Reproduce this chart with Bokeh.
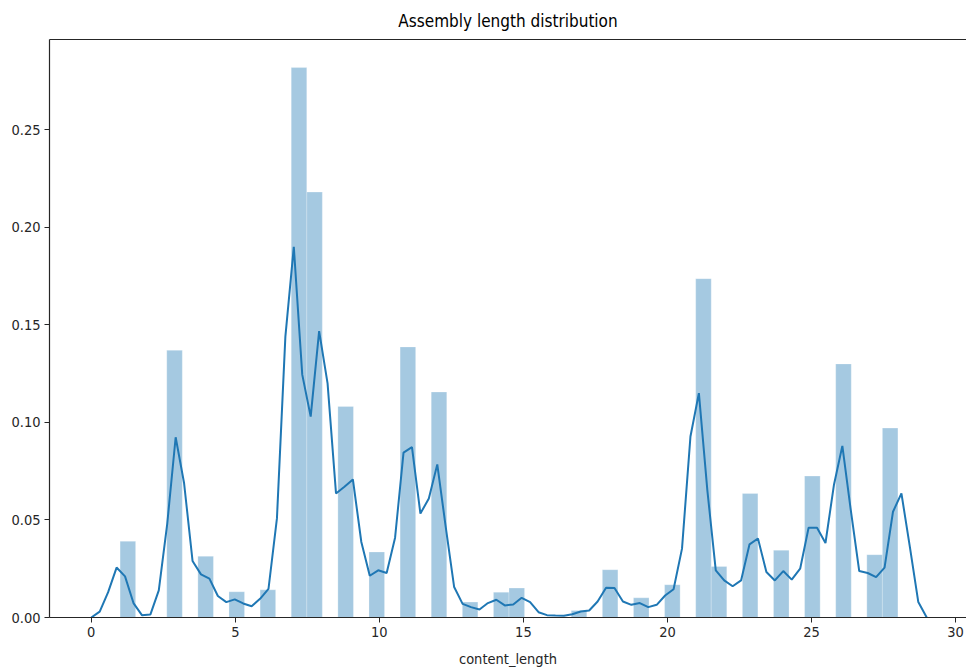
import numpy as np
from bokeh.plotting import figure
from bokeh.models import FixedTicker, PrintfTickFormatter, LinearAxis, ColumnDataSource
from bokeh.embed import file_html
from bokeh.resources import INLINE

# ---- data ----
lengths = [1, 3, 4, 5, 6, 7, 8, 9, 10, 11, 12, 13, 14, 15, 17, 18, 19, 20,
           21, 22, 23, 24, 25, 26, 27, 28]
densities = [0.0391, 0.137, 0.0314, 0.0132, 0.0142, 0.2819, 0.2181, 0.1082,
             0.0336, 0.1387, 0.1156, 0.0079, 0.013, 0.0151, 0.0036, 0.0245,
             0.0101, 0.0168, 0.1737, 0.0262, 0.0636, 0.0345, 0.0725, 0.130,
             0.0322, 0.0971]
n_bins = 50
data_min, data_max = 1, 28

kde_lo, kde_hi, kde_n = 0, 29, 100
kde_y = [0.000, 0.003, 0.013, 0.0256, 0.0211, 0.0074, 0.0012, 0.0015, 0.0139, 0.048,
         0.0924, 0.0688, 0.029, 0.0221, 0.0199, 0.011, 0.0079, 0.0093, 0.0072, 0.0058,
         0.0096, 0.0147, 0.0508, 0.144, 0.190, 0.1245, 0.103, 0.1468, 0.120, 0.0636,
         0.067, 0.0708, 0.0387, 0.0214, 0.0242, 0.0228, 0.0409, 0.0845, 0.0873, 0.0533,
         0.061, 0.0785, 0.0465, 0.0156, 0.007, 0.0053, 0.0041, 0.0074, 0.0091, 0.0062,
         0.0067, 0.0101, 0.0079, 0.0027, 0.0012, 0.001, 0.0009, 0.0017, 0.0031, 0.0036,
         0.0082, 0.0153, 0.0151, 0.0082, 0.0065, 0.0074, 0.0053, 0.0065, 0.0113, 0.0145,
         0.0353, 0.0928, 0.115, 0.0653, 0.0242, 0.019, 0.016, 0.019, 0.0375, 0.0405,
         0.0233, 0.019, 0.0238, 0.0194, 0.025, 0.046, 0.046, 0.0382, 0.0679, 0.088,
         0.055, 0.0238, 0.0228, 0.0207, 0.0256, 0.0542, 0.0636, 0.0362, 0.0079, 0.000]

x_ticks = [0, 5, 10, 15, 20, 25, 30]
y_ticks = [0.00, 0.05, 0.10, 0.15, 0.20, 0.25]
title_text = "Assembly length distribution"
x_label = "content_length"

# ---- derived histogram geometry ----
edges = np.linspace(data_min, data_max, n_bins + 1)
bw = edges[1] - edges[0]
idx = [min(int((v - data_min) / bw), n_bins - 1) for v in lengths]
bars = ColumnDataSource(dict(left=[edges[i] for i in idx],
                             right=[edges[i + 1] for i in idx],
                             top=densities))
kde_x = np.linspace(kde_lo, kde_hi, kde_n)

FONT = "DejaVu Sans Condensed"
AX = "#262626"

p = figure(width=966, height=669, x_range=(-1.45, 30.38), y_range=(0, 0.2963),
           output_backend="svg", toolbar_location=None,
           min_border_left=49, min_border_right=0, min_border_bottom=47,
           min_border_top=22)
p.title.text = title_text
p.title.align = "center"
p.title.text_font = FONT
p.title.text_font_size = "17px"
p.title.text_font_style = "normal"
p.title.text_color = "#000000"
p.title.standoff = 17
p.outline_line_color = None
p.xgrid.grid_line_color = None
p.ygrid.grid_line_color = None

p.quad(left="left", right="right", bottom=0, top="top", source=bars,
       fill_color="#1f77b4", fill_alpha=0.4, line_color="white", line_alpha=0.25,
       line_width=1)
p.line(kde_x, kde_y, line_color="#1f77b4", line_width=2)

for ax in (p.xaxis[0], p.yaxis[0]):
    ax.axis_line_color = AX
    ax.axis_line_width = 1.2
    ax.major_tick_line_color = AX
    ax.major_tick_out = 5
    ax.major_tick_in = 0
    ax.minor_tick_line_color = None
    ax.major_label_text_font = FONT
    ax.major_label_text_font_size = "14.5px"
    ax.major_label_text_color = AX
    ax.major_label_standoff = 4

p.xaxis.ticker = FixedTicker(ticks=x_ticks)
p.yaxis.ticker = FixedTicker(ticks=y_ticks)
p.yaxis.formatter = PrintfTickFormatter(format="%.2f")
p.xaxis.axis_label = x_label
p.xaxis.axis_label_text_font = FONT
p.xaxis.axis_label_text_font_size = "14.5px"
p.xaxis.axis_label_text_font_style = "normal"
p.xaxis.axis_label_text_color = AX
p.xaxis.axis_label_standoff = 11

top_axis = LinearAxis(ticker=FixedTicker(ticks=[]), major_label_text_font_size="0px",
                      major_tick_out=0, major_tick_in=0, minor_tick_out=0,
                      axis_line_color=AX, axis_line_width=1.2)
p.add_layout(top_axis, "above")

open("out.html", "w").write(file_html(p, INLINE))
